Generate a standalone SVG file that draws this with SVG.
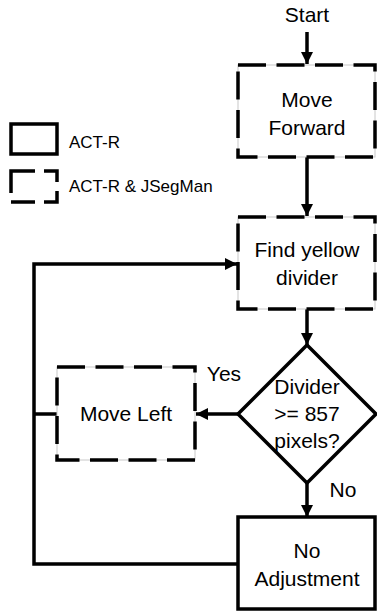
<svg xmlns="http://www.w3.org/2000/svg" width="377" height="611" viewBox="0 0 377 611">
<defs>
<marker id="ah" markerUnits="userSpaceOnUse" markerWidth="12" markerHeight="12" viewBox="0 0 12 12" refX="12" refY="6" orient="auto">
<path d="M0,0 L12,6 L0,12 Z" fill="#000"/>
</marker>
</defs>
<style>
text{font-family:"Liberation Sans",Arial,sans-serif;font-size:21px;fill:#000;text-anchor:middle}
.lg{text-anchor:start;font-size:17px}
.solid{fill:#fff;stroke:#000;stroke-width:3.5}
.thin{fill:#fff;stroke:#c8c8c8;stroke-width:1}
.dash{fill:none;stroke:#000;stroke-width:3.5;stroke-dasharray:28 10.5}
.con{fill:none;stroke:#000;stroke-width:3.5}
</style>
<rect width="377" height="611" fill="#fff"/>
<g id="connectors">
<line class="con" x1="307" y1="32" x2="307" y2="64" marker-end="url(#ah)"/>
<line class="con" x1="307" y1="157" x2="307" y2="216" marker-end="url(#ah)"/>
<line class="con" x1="307" y1="309" x2="307" y2="345" marker-end="url(#ah)"/>
<line class="con" x1="238" y1="414" x2="196" y2="414" marker-end="url(#ah)"/>
<line class="con" x1="307" y1="483" x2="307" y2="517" marker-end="url(#ah)"/>
<polyline class="con" points="238,564 34,564 34,264 237,264" marker-end="url(#ah)"/>
<line class="con" x1="34" y1="414" x2="57" y2="414"/>
<text x="224" y="381">Yes</text>
<text x="343" y="497">No</text>
</g>
<g id="start"><text x="307" y="22">Start</text></g>
<g id="move-forward">
<rect class="thin" x="238" y="65" width="137" height="92"/>
<rect class="dash" x="238" y="65" width="137" height="92"/>
<text x="307" y="107">Move</text>
<text x="307" y="135">Forward</text>
</g>
<g id="find-yellow">
<rect class="thin" x="238" y="217" width="137" height="92"/>
<rect class="dash" x="238" y="217" width="137" height="92"/>
<text x="307" y="257">Find yellow</text>
<text x="307" y="285">divider</text>
</g>
<g id="decision">
<polygon class="solid" points="307,345 376,414 307,483 238,414"/>
<text x="307" y="394">Divider</text>
<text x="307" y="421">&gt;= 857</text>
<text x="307" y="448">pixels?</text>
</g>
<g id="move-left">
<rect class="thin" x="57" y="367" width="138" height="93"/>
<rect class="dash" x="57" y="367" width="138" height="93"/>
<text x="126" y="421">Move Left</text>
</g>
<g id="no-adjustment">
<rect class="solid" x="238" y="517" width="137" height="92"/>
<text x="307" y="558">No</text>
<text x="307" y="586">Adjustment</text>
</g>
<g id="legend">
<rect class="solid" x="11" y="124" width="46" height="30"/>
<text class="lg" x="69" y="148">ACT-R</text>
<rect x="11" y="171" width="46" height="31" fill="none" stroke="#000" stroke-width="3.5" stroke-dasharray="24 9"/>
<text class="lg" x="69" y="192">ACT-R &amp; JSegMan</text>
</g>
</svg>
